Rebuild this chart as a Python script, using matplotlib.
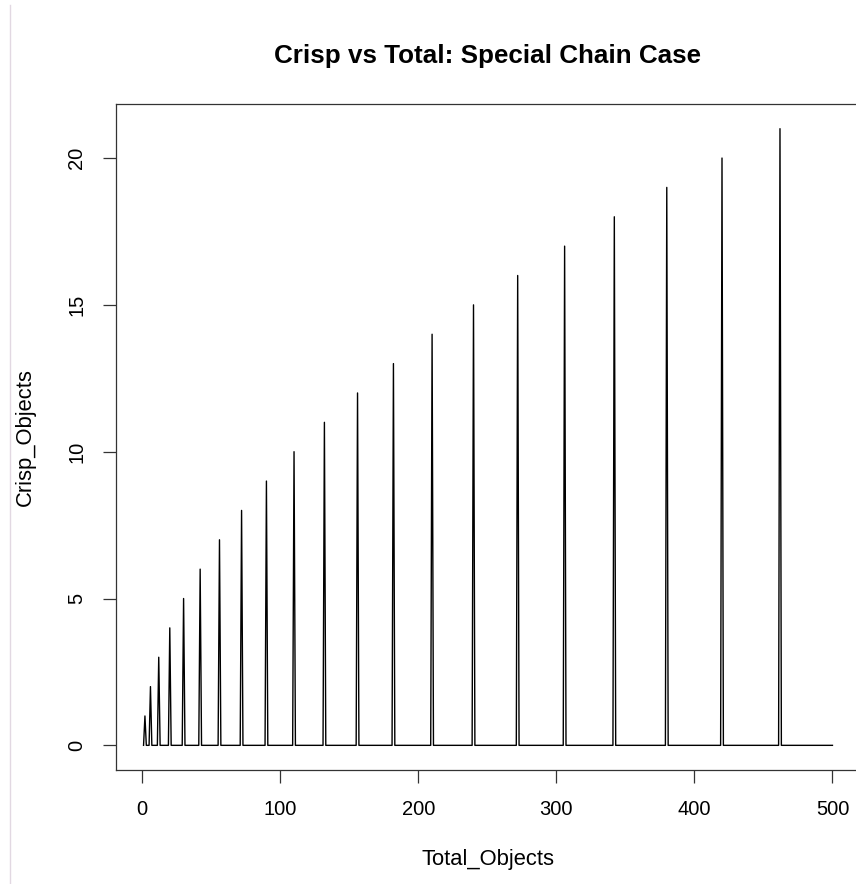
import numpy as np
import matplotlib
matplotlib.use("Agg")
import matplotlib.pyplot as plt
from matplotlib.lines import Line2D

# データ
total_max = 500
spike_total = [2, 6, 12, 20, 30, 42, 56, 72, 90, 110, 132, 156, 182, 210,
               240, 272, 306, 342, 380, 420, 462]
spike_crisp = [1, 2, 3, 4, 5, 6, 7, 8, 9, 10, 11, 12, 13, 14,
               15, 16, 17, 18, 19, 20, 21]
x_ticks = [0, 100, 200, 300, 400, 500]
y_ticks = [0, 5, 10, 15, 20]

total_objects = np.arange(1, total_max + 1)
crisp_objects = np.zeros(total_max)
crisp_objects[np.array(spike_total) - 1] = spike_crisp

plt.rcParams['font.family'] = ['Liberation Sans', 'DejaVu Sans']

W, H = 856, 884
fig = plt.figure(figsize=(W / 100, H / 100), dpi=100)
# 軸の位置 (pixel)
left, right, top, bottom = 116, 860, 104, 770
ax = fig.add_axes([left / W, 1 - bottom / H, (right - left) / W, (bottom - top) / H])

ax.plot(total_objects, crisp_objects, color="black", linewidth=1.0)

pad_x = 0.04 * (total_max - 1)
ax.set_xlim(1 - pad_x, total_max + pad_x)
ax.set_ylim(-0.04 * 21, 21 * 1.04)
ax.set_xticks(x_ticks)
ax.set_yticks(y_ticks)
ax.set_yticklabels([str(v) for v in y_ticks], rotation=90, va="center")
ax.tick_params(axis="both", direction="out", length=9.5, width=0.9,
               color="#333333", labelsize=14.5, pad=12)
for s in ax.spines.values():
    s.set_linewidth(0.9)
    s.set_color("#333333")

fig.text(487 / W, 1 - 56 / H, "Crisp vs Total: Special Chain Case",
         ha="center", va="center", fontsize=18.7, fontweight="bold")
fig.text(488 / W, 1 - 859 / H, "Total_Objects", ha="center", va="center",
         fontsize=15.8)
fig.text(25 / W, 1 - 437 / H, "Crisp_Objects", ha="center", va="center",
         fontsize=15.8, rotation=90)

# 左端の枠線
fig.add_artist(Line2D([9.5 / W, 9.5 / W], [0, 1 - 5 / H],
                      transform=fig.transFigure, color="#e2d8e2", linewidth=1.0))

fig.savefig("out.png", dpi=100)
